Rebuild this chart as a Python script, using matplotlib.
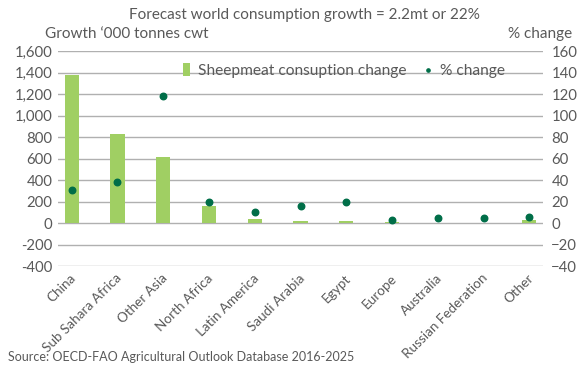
import numpy as np
import matplotlib.pyplot as plt
import matplotlib.transforms as mtransforms

plt.rcParams['font.family'] = ['Lato', 'DejaVu Sans']

regions = ['China', 'Sub Sahara Africa', 'Other Asia', 'North Africa', 'Latin America',
           'Saudi Arabia', 'Egypt', 'Europe', 'Australia', 'Russian Federation', 'Other']
growth = [1380, 830, 610, 160, 35, 20, 15, 10, 3, 0, 30]
pct_change = [31, 38, 118, 20, 10, 16, 20, 3, 4.5, 4.5, 6]

bar_col = '#a0cf63'
dot_col = '#006e48'
txt_col = '#595959'
grid_col = '#b0b0b0'

fig = plt.figure(figsize=(5.85, 3.69), dpi=100)
ax = fig.add_axes([58/585, 1-266/369, 485/585, 215/369])
ax2 = ax.twinx()

x = np.arange(len(regions))
ax.bar(x, growth, width=0.31, color=bar_col, zorder=2, label='Sheepmeat consuption change')
ax2.scatter(x, pct_change, s=22, color=dot_col, zorder=3, label='% change')

ax.set_xlim(-0.3, 10.3)
ax.set_ylim(-400, 1600)
ax2.set_ylim(-40, 160)
ax.set_yticks(np.arange(-400, 1601, 200))
ax2.set_yticks(np.arange(-40, 161, 20))
ax.set_yticklabels([f'{v:,}' for v in range(-400, 1601, 200)])
ax.yaxis.grid(True, color=grid_col, lw=1, zorder=0)
ax.set_axisbelow(True)

for a in (ax, ax2):
    for s in a.spines.values():
        s.set_visible(False)
    a.tick_params(length=0, colors=txt_col, labelsize=10.7)
ax.tick_params(axis='y', pad=4)
ax2.tick_params(axis='y', pad=6)

ax.set_xticks(x)
ax.set_xticklabels(regions, rotation=45, ha='right', rotation_mode='anchor', fontsize=9.7, color=txt_col)
ax.tick_params(axis='x', pad=4.3)
shift = mtransforms.ScaledTranslation(-2/100, 0, fig.dpi_scale_trans)
for lbl in ax.get_xticklabels():
    lbl.set_transform(lbl.get_transform() + shift)

fig.text(0.521, 1-15/369, 'Forecast world consumption growth = 2.2mt or 22%', ha='center', va='center',
         fontsize=11, color=txt_col)
fig.text(45/585, 1-34/369, 'Growth \u2018000 tonnes cwt', ha='left', va='center', fontsize=11, color=txt_col)
fig.text(572/585, 1-34/369, '% change', ha='right', va='center', fontsize=11, color=txt_col)
fig.text(8/585, 1-357/369, 'Source: OECD-FAO Agricultural Outlook Database 2016-2025', ha='left', va='center',
         fontsize=9, color=txt_col)

h1, l1 = ax.get_legend_handles_labels()
h2, l2 = ax2.get_legend_handles_labels()
leg = ax.legend(h1 + h2, l1 + l2, loc='upper center', bbox_to_anchor=(0.589, 1.01), ncol=2, frameon=False,
                fontsize=11.2, handlelength=0.45, handleheight=0.9, handletextpad=0.5, columnspacing=1.2,
                labelcolor=txt_col, markerscale=0.5)

fig.savefig('out.png', dpi=100)
